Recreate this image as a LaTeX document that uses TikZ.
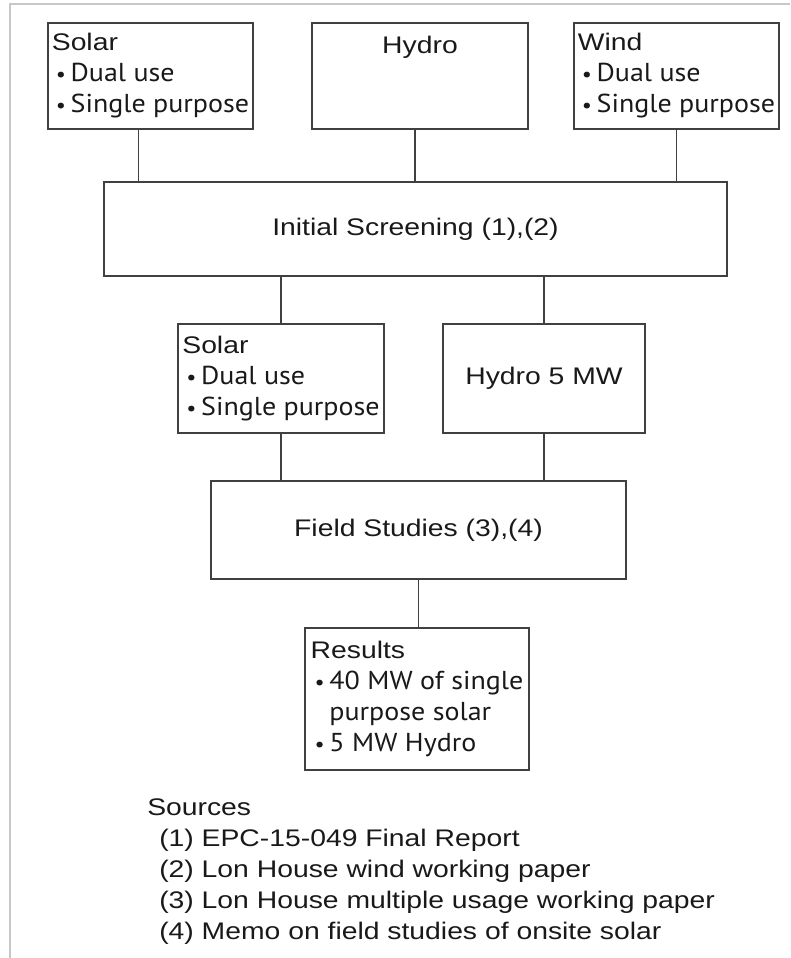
\documentclass[tikz,border=0pt]{standalone}
\usepackage{fontspec}
\setmainfont{Liberation Sans}[FakeStretch=1.18]
\newfontfamily\listfont{PT Sans}[FakeStretch=1.08, Scale=1.08]
\newcommand{\itemline}[1]{\hspace*{3pt}{\listfont\scalebox{0.8}{\textbullet}\hspace{3.5pt}#1}}
\newcommand{\contline}[1]{\hspace*{3pt}{\listfont\phantom{\scalebox{0.8}{\textbullet}\hspace{3.5pt}}#1}}

\begin{document}
\begin{tikzpicture}[x=0.75pt, y=-0.75pt,
    box/.style 2 args={draw=black!75, line width=1.4pt,
      minimum width=#1*0.75pt, minimum height=#2*0.75pt,
      inner sep=3pt, text=black!90, font=\fontsize{18}{23.25}\selectfont},
    link/.style={draw=black!75, line width=1.4pt},
    frame/.style={draw=black!22, line width=1.5pt}]
  \useasboundingbox (0,0) rectangle (790,958);
  % page frame
  \draw[frame] (790,4) -- (10,4) -- (10,958);
  % candidate resources
  \node[box={205}{106}, align=left] (solarA) at (150.5,76)
        {Solar\\\itemline{Dual use}\\\itemline{Single purpose}};
  \node[box={216}{106}, align=center] (hydroA) at (420,76)
        {Hydro\\\mbox{}\\\mbox{}};
  \node[box={205}{106}, align=left] (windA) at (676.5,76)
        {Wind\\\itemline{Dual use}\\\itemline{Single purpose}};
  % first screening
  \node[box={623}{94}] (screen) at (415.5,229) {Initial Screening (1),(2)};
  \draw[link] ([xshift=-9]solarA.south) -- ([xshift=-9]solarA.south |- screen.north);
  \draw[link] ([xshift=-4]hydroA.south) -- ([xshift=-4]hydroA.south |- screen.north);
  \draw[link] (windA.south) -- (windA.south |- screen.north);
  % retained options
  \node[box={206}{109}, align=left] (solarB) at (281,378.5)
        {Solar\\\itemline{Dual use}\\\itemline{Single purpose}};
  \node[box={202}{109}] (hydroB) at (544,378.5) {Hydro 5 MW};
  \draw[link] (solarB.north |- screen.south) -- (solarB.north);
  \draw[link] (hydroB.north |- screen.south) -- (hydroB.north);
  % field studies
  \node[box={415}{98}] (field) at (418.5,530) {Field Studies (3),(4)};
  \draw[link] (solarB.south) -- (solarB.south |- field.north);
  \draw[link] (hydroB.south) -- (hydroB.south |- field.north);
  % outcome
  \node[box={224}{142}, align=left] (results) at (417,699)
        {Results\\\itemline{40 MW of single}\\\contline{purpose solar}\\\itemline{5 MW Hydro}};
  \draw[link] (field.south) -- (field.south |- results.north);
  % references
  \node[anchor=north west, align=left, inner sep=0pt, text=black!90,
        font=\fontsize{18}{23.25}\selectfont] (sources) at (147,798)
        {Sources\\
         \hspace*{9pt}(1) EPC-15-049 Final Report\\
         \hspace*{9pt}(2) Lon House wind working paper\\
         \hspace*{9pt}(3) Lon House multiple usage working paper\\
         \hspace*{9pt}(4) Memo on field studies of onsite solar};
\end{tikzpicture}
\end{document}
